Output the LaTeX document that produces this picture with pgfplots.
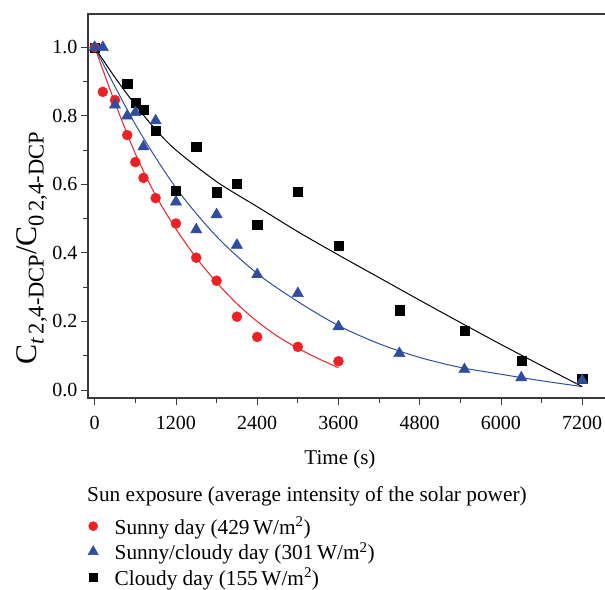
\documentclass[border=0pt]{standalone}
\usepackage{fontspec}
\setmainfont{Liberation Serif}
\usepackage{pgfplots}
\pgfplotsset{compat=1.18}
\definecolor{sunred}{HTML}{ED2024}
\definecolor{sunblue}{HTML}{2F4D9E}
\definecolor{axisgray}{HTML}{3A3A3A}

% measured points
\pgfplotstableread{
t C
0 1.000
120 0.870
300 0.846
480 0.744
600 0.665
720 0.619
900 0.560
1200 0.486
1500 0.386
1800 0.319
2100 0.214
2400 0.155
3000 0.126
3600 0.084
}\sunny
\pgfplotstableread{
t C
0 1.000
120 1.000
300 0.832
480 0.800
600 0.810
720 0.710
900 0.786
1200 0.549
1500 0.468
1800 0.512
2100 0.423
2400 0.337
3000 0.282
3600 0.185
4500 0.107
5460 0.060
6300 0.036
7200 0.028
}\mixed
\pgfplotstableread{
t C
0 1.000
480 0.893
600 0.839
720 0.819
900 0.757
1200 0.581
1500 0.710
1800 0.577
2100 0.602
2400 0.483
3000 0.579
3600 0.421
4500 0.233
5460 0.174
6300 0.085
7200 0.032
}\cloudy

% fitted curves
\pgfplotstableread{
t C
0 1.000
300 0.838
600 0.690
900 0.568
1200 0.470
1500 0.386
1800 0.314
2100 0.252
2400 0.200
2700 0.157
3000 0.122
3300 0.092
3600 0.065
}\sunnyfit
\pgfplotstableread{
t C
0 1.000
600 0.775
1200 0.590
1800 0.448
2400 0.340
3000 0.258
3600 0.188
4200 0.135
4800 0.095
5400 0.066
6000 0.046
6600 0.027
7200 0.010
}\mixedfit
\pgfplotstableread{
t C
0 1.000
300 0.912
600 0.832
900 0.760
1200 0.700
1800 0.608
2400 0.535
3000 0.462
3600 0.394
4200 0.328
4800 0.262
5400 0.197
6000 0.133
6600 0.071
7200 0.010
}\cloudyfit

\begin{document}
\begin{tikzpicture}[x=1pt,y=1pt]
\useasboundingbox (0,0) rectangle (605,-589);
\begin{axis}[
  at={(88pt,-398pt)}, anchor=south west,
  scale only axis, width=552pt, height=384pt,
  xmin=-99, xmax=8053, ymin=-0.0233, ymax=1.0972,
  axis line style={axisgray, line width=1.3pt},
  xtick={0,1200,2400,3600,4800,6000,7200},
  ytick={0,0.2,0.4,0.6,0.8,1.0},
  minor x tick num=1, minor y tick num=1,
  xtick pos=bottom, ytick pos=left,
  tick align=outside,
  major tick length=7pt, minor tick length=4.5pt,
  every tick/.style={axisgray, line width=0.9pt},
  x tick label style={/pgf/number format/1000 sep={}, yshift=-8pt},
  y tick label style={/pgf/number format/.cd, fixed, fixed zerofill, precision=1},
  /pgf/number format/assume math mode=true,
  tick label style={font=\fontsize{20}{24}\selectfont},
  xlabel={Time (s)},
  xlabel style={at={(axis description cs:0.4565,-0.159)}, anchor=center,
    font=\fontsize{21}{24}\selectfont},
  ylabel={C\raisebox{-0.25em}{\fontsize{22.5}{24}\selectfont\textit{t}\,2,4-DCP}/C\raisebox{-0.25em}{\fontsize{22.5}{24}\selectfont 0\,2,4-DCP}},
  ylabel style={at={(axis description cs:-0.0942,0.39)}, anchor=base,
    font=\fontsize{30}{36}\selectfont},
  legend style={at={(axis description cs:-0.0036,-0.3047)}, anchor=north west,
    draw=none, fill=none, inner sep=0pt, row sep=3.6pt,
    font=\fontsize{21.3}{24}\selectfont, nodes={inner sep=1.5pt}},
  legend cell align=left,
  legend image code/.code={\path[draw=none] (0pt,0pt) (27pt,0pt);
    \draw[mark repeat=2,mark phase=2,#1]
    plot coordinates {(0pt,0pt) (7pt,0pt) (14pt,0pt)};},
]
\addplot[sunred, line width=1pt, smooth, forget plot] table[x=t,y=C] {\sunnyfit};
\addplot[sunblue, line width=1pt, smooth, forget plot] table[x=t,y=C] {\mixedfit};
\addplot[black, line width=1pt, smooth, forget plot] table[x=t,y=C] {\cloudyfit};

\addplot[only marks, mark=square*, mark size=4.6pt, black, forget plot] table[x=t,y=C] {\cloudy};
\addplot[only marks, mark=*, mark size=5pt, sunred, forget plot] table[x=t,y=C] {\sunny};
\addplot[only marks, mark=triangle*, mark size=6.5pt, sunblue, forget plot] table[x=t,y=C] {\mixed};

\addlegendimage{only marks, mark=*, mark size=4.6pt, sunred}
\addlegendentry{Sunny day (429\,W/m\textsuperscript{2})}
\addlegendimage{only marks, mark=triangle*, mark size=6pt, sunblue}
\addlegendentry{Sunny/cloudy day (301\,W/m\textsuperscript{2})}
\addlegendimage{only marks, mark=square*, mark size=3.6pt, black}
\addlegendentry{Cloudy day (155\,W/m\textsuperscript{2})}
\end{axis}
\node[anchor=base west, inner sep=0pt, font=\fontsize{21.3}{24}\selectfont]
  at (87,-501) {Sun exposure (average intensity of the solar power)};
\end{tikzpicture}
\end{document}
